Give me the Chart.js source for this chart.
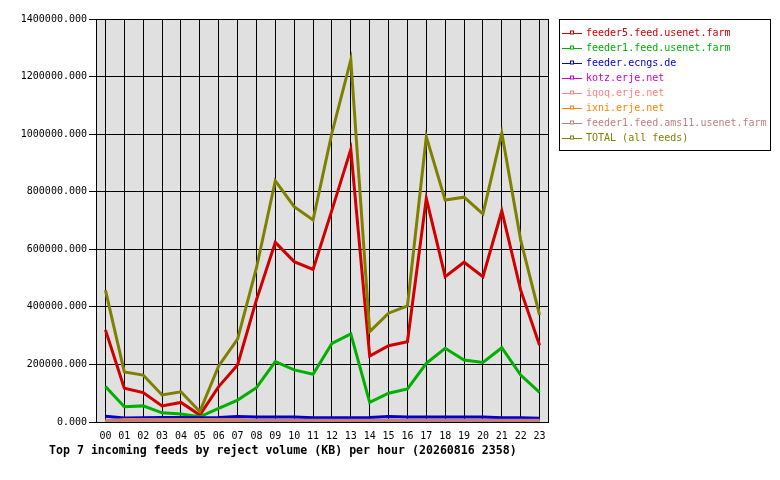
<!DOCTYPE html>
<html>
<head>
<meta charset="utf-8">
<script src="https://cdn.jsdelivr.net/npm/chart.js@4.4.1/dist/chart.umd.min.js"></script>
<style>
  html, body { margin: 0; padding: 0; background: #fff; }
  #wrap { width: 780px; height: 480px; position: relative; }
</style>
</head>
<body>
<div id="wrap"><canvas id="feeds"></canvas></div>
<script>
var hours = ["00","01","02","03","04","05","06","07","08","09","10","11",
             "12","13","14","15","16","17","18","19","20","21","22","23"];

var feeder5 = [320000,117000,102000,56000,68000,24000,123000,198000,424000,624000,557000,530000,
               736000,947000,229000,265000,279000,777000,505000,555000,505000,733000,458000,267000];
var feeder1 = [123000,53000,56000,32000,28000,18000,47000,76000,119000,210000,181000,166000,
               273000,306000,68000,100000,115000,204000,256000,215000,207000,258000,163000,103000];
var ecngs = [20000,14000,15000,16000,16000,15000,16000,19000,17000,17000,17000,15000,
             15000,15000,16000,19000,17000,17000,17000,17000,17000,15000,15000,13000];
var kotz = [500,400,400,300,300,300,400,500,500,500,500,500,
            500,500,400,400,400,500,500,500,500,500,400,400];
var iqoq = [1000,900,900,800,800,700,900,1000,1000,1100,1100,1000,
            1000,1100,900,900,900,1000,1000,1000,1000,1000,900,900];
var ixni = [3000,9000,9000,9000,9000,9000,9000,9000,3000,3000,3000,3000,
            3000,3000,3000,3000,3000,3000,3000,3000,3000,3000,3000,3000];
var ams11 = [6000,6000,6000,6000,6000,6000,6000,6000,6000,6000,6000,6000,
             6000,6000,6000,6000,6000,6000,6000,6000,6000,6000,6000,6000];
var total = [458000,174000,163000,94000,105000,36000,195000,288000,535000,838000,748000,702000,
             1004000,1258000,314000,378000,403000,991000,771000,781000,723000,1003000,632000,372000];

var yTicks = [0,200000,400000,600000,800000,1000000,1200000,1400000];

var series = [
  ["feeder5.feed.usenet.farm", feeder5, "#d00000"],
  ["feeder1.feed.usenet.farm", feeder1, "#00b000"],
  ["feeder.ecngs.de", ecngs, "#0000cc"],
  ["kotz.erje.net", kotz, "#cc00cc"],
  ["iqoq.erje.net", iqoq, "#ff8080"],
  ["ixni.erje.net", ixni, "#ff8000"],
  ["feeder1.feed.ams11.usenet.farm", ams11, "#c08080"],
  ["TOTAL (all feeds)", total, "#808000"]
];

var mono = "'DejaVu Sans Mono', monospace";

var frame = {
  id: "frame",
  beforeDraw: function(chart) {
    var c = chart.ctx, a = chart.chartArea;
    c.save();
    c.fillStyle = "#fff";
    c.fillRect(0, 0, chart.width, chart.height);
    c.fillStyle = "#e0e0e0";
    c.fillRect(a.left, a.top, a.right - a.left, a.bottom - a.top);
    c.restore();
  },
  afterDraw: function(chart) {
    var c = chart.ctx, a = chart.chartArea;
    c.save();
    c.strokeStyle = "#000";
    c.lineWidth = 1;
    c.strokeRect(Math.round(a.left) + 0.5, Math.round(a.top) + 0.5,
                 Math.round(a.right - a.left) - 1, Math.round(a.bottom - a.top));

    // legend box
    c.fillStyle = "#fff";
    c.fillRect(559, 19, 211, 131);
    c.strokeRect(559.5, 19.5, 211, 131);
    c.font = "10px " + mono;
    c.textBaseline = "middle";
    chart.data.datasets.forEach(function(ds, i) {
      var y = 33 + i * 15 + 0.5;
      c.strokeStyle = ds.borderColor;
      c.lineWidth = 1;
      c.beginPath();
      c.moveTo(562, y);
      c.lineTo(582, y);
      c.stroke();
      c.fillStyle = "#fff";
      c.fillRect(571, y - 2.5, 3, 3);
      c.strokeRect(570.5, y - 2.5, 3, 3);
      c.fillStyle = ds.borderColor;
      c.fillText(ds.label, 586, y);
    });

    // caption
    c.fillStyle = "#000";
    c.font = "bold 11.6px " + mono;
    c.textBaseline = "middle";
    c.textAlign = "left";
    c.fillText("Top 7 incoming feeds by reject volume (KB) per hour (20260816 2358)", 49, 451);
    c.restore();
  }
};

new Chart(document.getElementById("feeds"), {
  type: "line",
  data: {
    labels: hours,
    datasets: series.map(function(s, i) {
      return {
        label: s[0],
        data: s[1],
        borderColor: s[2],
        backgroundColor: s[2],
        borderWidth: 3,
        pointRadius: 0,
        tension: 0,
        fill: false,
        order: series.length - i
      };
    })
  },
  options: {
    responsive: true,
    maintainAspectRatio: false,
    animation: false,
    layout: { padding: { top: 19, right: 231, left: 0, bottom: 0 } },
    plugins: {
      legend: { display: false },
      tooltip: { enabled: false },
      title: { display: false }
    },
    scales: {
      x: {
        offset: true,
        afterFit: function(s) { s.height = 58; },
        grid: { color: "#000", lineWidth: 1, drawTicks: false, offset: false },
        border: { display: false },
        ticks: { color: "#000", font: { family: mono, size: 10 }, padding: 8,
                 maxRotation: 0, autoSkip: false }
      },
      y: {
        min: 0,
        max: 1400000,
        afterFit: function(s) { s.width = 96; },
        afterBuildTicks: function(s) { s.ticks = yTicks.map(function(v) { return { value: v }; }); },
        grid: { color: "#000", lineWidth: 1, tickLength: 7 },
        border: { display: false },
        ticks: { color: "#000", font: { family: mono, size: 10 }, padding: 2,
                 callback: function(v) { return Number(v).toFixed(3); } }
      }
    }
  },
  plugins: [frame]
});
</script>
</body>
</html>
